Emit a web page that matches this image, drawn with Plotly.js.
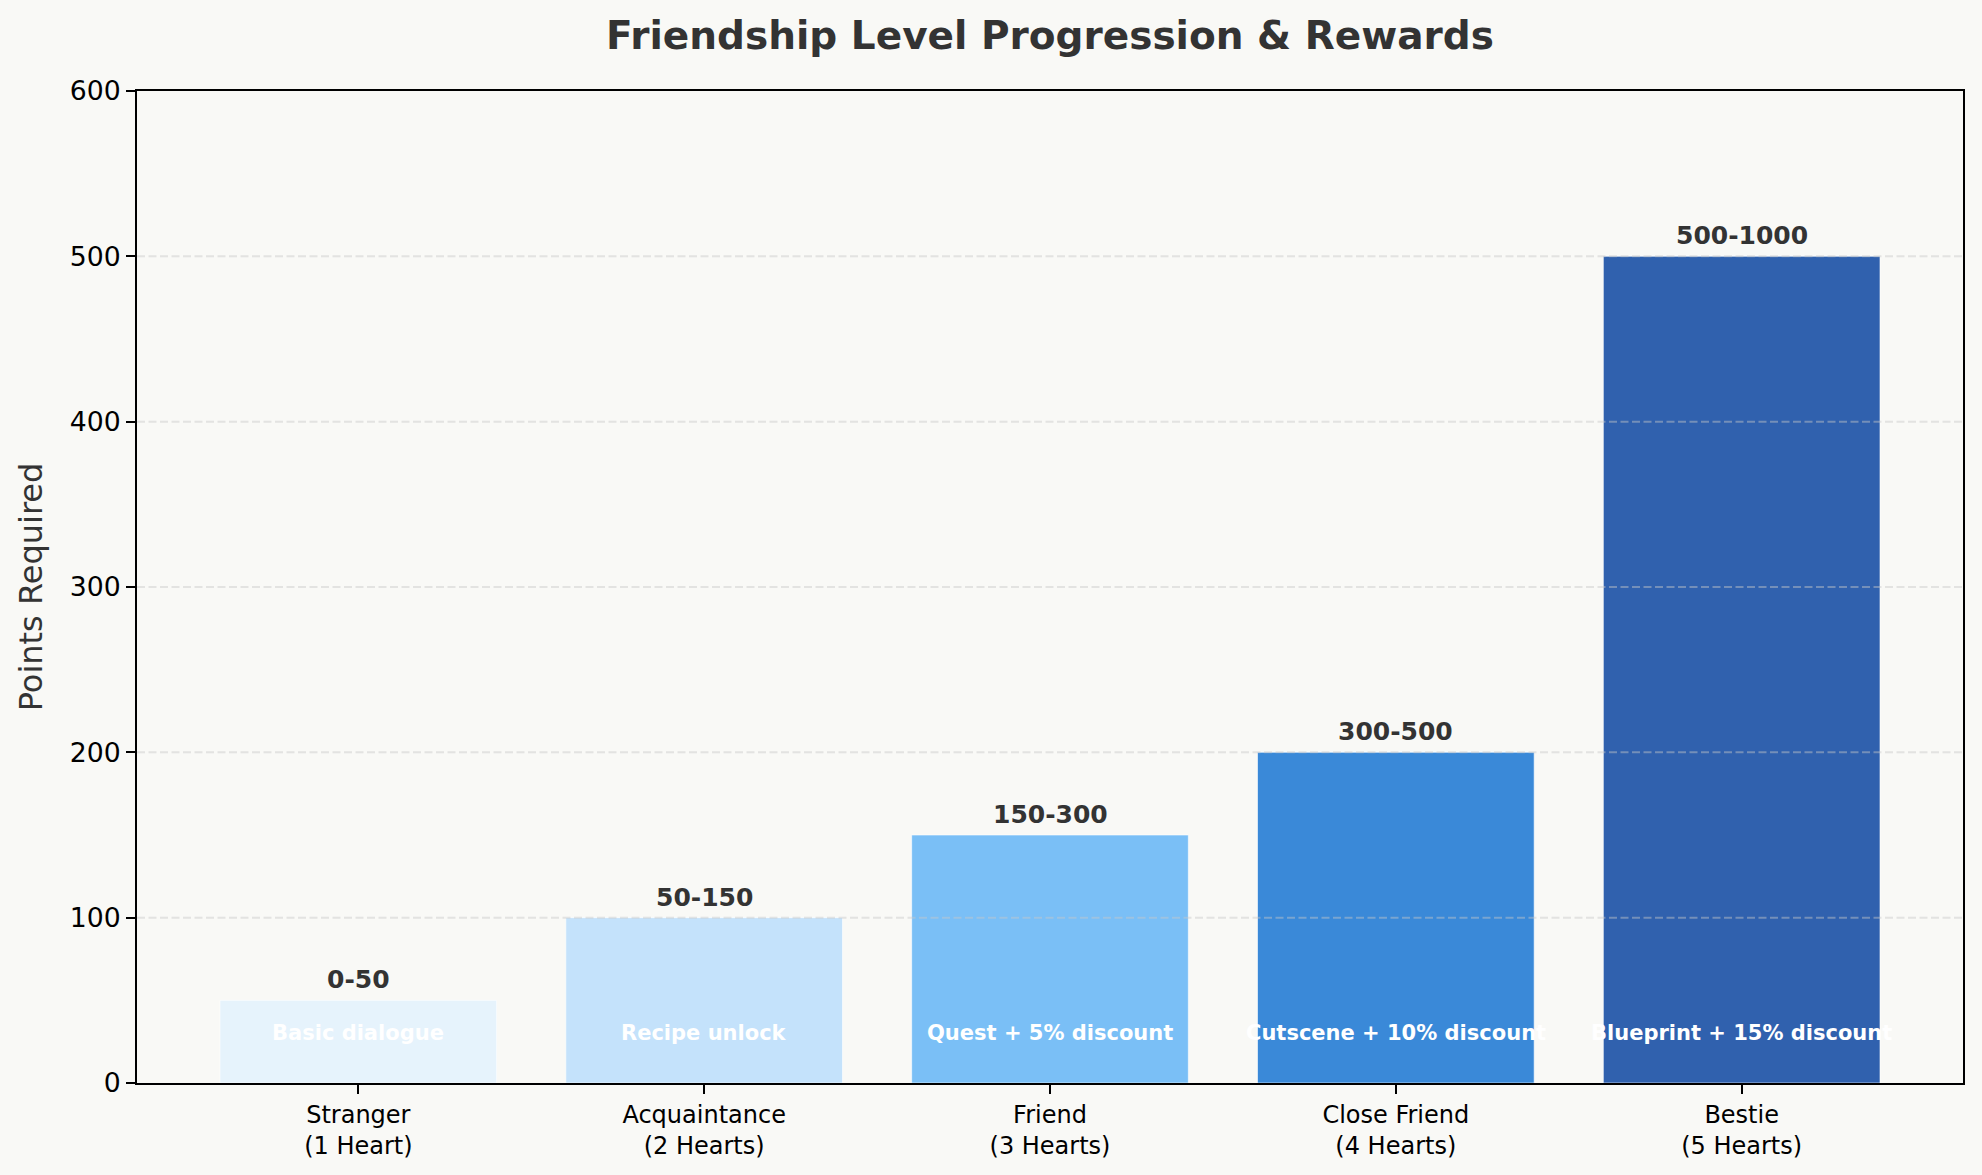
<!DOCTYPE html>
<html>
<head>
<meta charset="utf-8">
<script src="https://cdn.plot.ly/plotly-3.0.1.min.js"></script>
<style>
  html, body { margin: 0; padding: 0; background: #F9F9F6; }
  #chart { width: 1982px; height: 1175px; }
</style>
</head>
<body>
<div id="chart"></div>
<script>
// ---- data ----
const levelNames = ['Stranger', 'Acquaintance', 'Friend', 'Close Friend', 'Bestie'];
const heartLabels = ['(1 Heart)', '(2 Hearts)', '(3 Hearts)', '(4 Hearts)', '(5 Hearts)'];
const pointsRequired = [50, 100, 150, 200, 500];
const pointRanges = ['0-50', '50-150', '150-300', '300-500', '500-1000'];
const rewards = ['Basic dialogue', 'Recipe unlock', 'Quest + 5% discount', 'Cutscene + 10% discount', 'Blueprint + 15% discount'];
const barColors = ['#E3F2FD', '#BBDEFB', '#64B5F6', '#1976D2', '#0D47A1'];
const yTicks = [0, 100, 200, 300, 400, 500, 600];
const rewardLabelY = 30;

// ---- helpers ----
const FONT = 'DejaVu Sans, Verdana, sans-serif';
function hexToRgba(hex, a) {
  const n = parseInt(hex.slice(1), 16);
  return `rgba(${(n >> 16) & 255},${(n >> 8) & 255},${n & 255},${a})`;
}
const categories = levelNames.map((n, i) => n + '<br>' + heartLabels[i]);

const trace = {
  type: 'bar',
  x: categories,
  y: pointsRequired,
  marker: {
    color: barColors.map(c => hexToRgba(c, 0.85)),
    line: { color: 'rgba(255,255,255,0.6)', width: 1 }
  },
  hoverinfo: 'skip'
};

const annotations = [];
categories.forEach((c, i) => {
  annotations.push({
    x: c, y: pointsRequired[i], xref: 'x', yref: 'y',
    text: '<b>' + pointRanges[i] + '</b>',
    showarrow: false, yanchor: 'bottom', yshift: 4,
    font: { family: FONT, size: 25, color: '#333333' }
  });
  annotations.push({
    x: c, y: rewardLabelY, xref: 'x', yref: 'y',
    text: '<b>' + rewards[i] + '</b>',
    showarrow: false, yanchor: 'middle',
    font: { family: FONT, size: 21, color: '#FFFFFF' }
  });
});

const gridShapes = yTicks.filter(v => v > yTicks[0] && v < yTicks[yTicks.length - 1]).map(v => ({
  type: 'line', xref: 'paper', yref: 'y', x0: 0, x1: 1, y0: v, y1: v,
  layer: 'above',
  line: { color: 'rgba(200,200,200,0.45)', width: 2, dash: '8px,3.5px' }
}));

const layout = {
  width: 1982, height: 1175,
  paper_bgcolor: '#F9F9F6',
  plot_bgcolor: '#F9F9F6',
  margin: { l: 137, r: 19, t: 91, b: 92, autoexpand: false },
  title: {
    text: '<b>Friendship Level Progression & Rewards</b>',
    font: { family: FONT, size: 39, color: '#333333' },
    x: 0.5, xref: 'paper', xanchor: 'center',
    y: 1 - 35 / 1175, yref: 'container', yanchor: 'middle'
  },
  bargap: 0.2,
  showlegend: false,
  xaxis: {
    type: 'category',
    range: [-0.64, categories.length - 1 + 0.64],
    showline: true, linecolor: '#000', linewidth: 2, mirror: true,
    ticks: 'outside', ticklen: 9, tickwidth: 2, tickcolor: '#000',
    tickfont: { family: FONT, size: 24, color: '#000' },
    showgrid: false, zeroline: false, automargin: false
  },
  yaxis: {
    range: [yTicks[0], yTicks[yTicks.length - 1]],
    tickvals: yTicks,
    showline: true, linecolor: '#000', linewidth: 2, mirror: true,
    ticks: 'outside', ticklen: 9, tickwidth: 2, tickcolor: '#000',
    tickfont: { family: FONT, size: 26.7, color: '#000' },
    showgrid: false, zeroline: false, automargin: false,
    title: { text: 'Points Required', font: { family: FONT, size: 32, color: '#333333' }, standoff: 18 }
  },
  annotations: annotations,
  shapes: gridShapes
};

Plotly.newPlot('chart', [trace], layout, { displayModeBar: false, staticPlot: true });
</script>
</body>
</html>
